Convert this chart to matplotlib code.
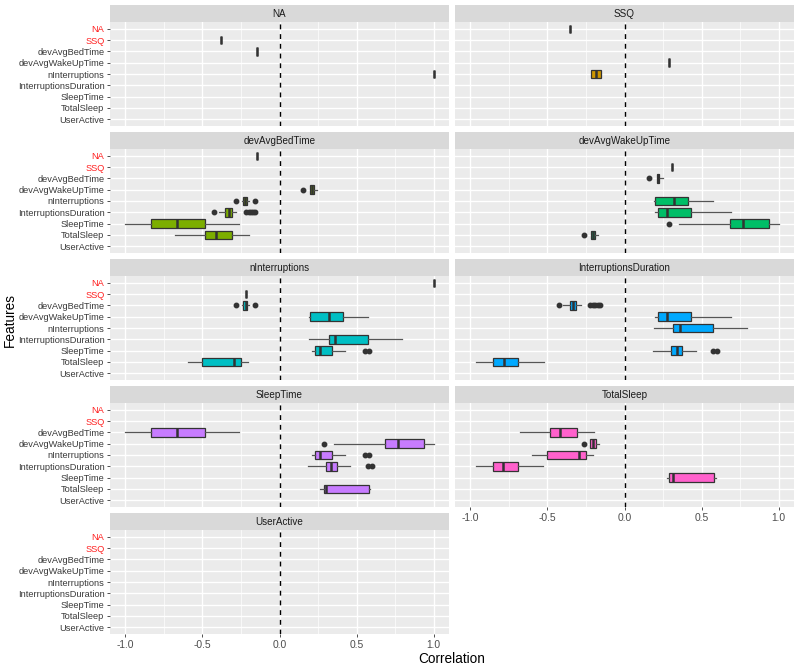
import matplotlib
matplotlib.use("Agg")
import matplotlib.pyplot as plt

plt.rcParams['font.family'] = ['Liberation Sans', 'DejaVu Sans']

# features, top to bottom on every y axis
FEATURES = ["NA", "SSQ", "devAvgBedTime", "devAvgWakeUpTime", "nInterruptions",
            "InterruptionsDuration", "SleepTime", "TotalSleep", "UserActive"]
RED_LABELS = ["NA", "SSQ"]

# facet fill colours (ggplot hue palette)
FILLS = {"NA": "#F8766D", "SSQ": "#CD9600", "devAvgBedTime": "#7CAE00",
         "devAvgWakeUpTime": "#00BE67", "nInterruptions": "#00BFC4",
         "InterruptionsDuration": "#00A9FF", "SleepTime": "#C77CFF",
         "TotalSleep": "#FF61CC", "UserActive": "#FF61CC"}

# box stats per facet: feature -> (whislo, q1, med, q3, whishi, outliers)
NA_BOXES = {
    "SSQ": (-0.38, -0.38, -0.38, -0.38, -0.38, []),
    "devAvgBedTime": (-0.145, -0.145, -0.145, -0.145, -0.145, []),
    "nInterruptions": (1.0, 1.0, 1.0, 1.0, 1.0, []),
}
SSQ_BOXES = {
    "NA": (-0.355, -0.355, -0.355, -0.355, -0.355, []),
    "devAvgWakeUpTime": (0.292, 0.292, 0.292, 0.292, 0.292, []),
    "nInterruptions": (-0.216, -0.216, -0.186, -0.151, -0.151, []),
}
BEDTIME_BOXES = {
    "NA": (-0.145, -0.145, -0.145, -0.145, -0.145, []),
    "devAvgWakeUpTime": (0.201, 0.201, 0.214, 0.227, 0.245, [0.154]),
    "nInterruptions": (-0.245, -0.238, -0.221, -0.21, -0.2, [-0.281, -0.156]),
    "InterruptionsDuration": (-0.394, -0.351, -0.329, -0.31, -0.284,
                              [-0.427, -0.216, -0.2, -0.185, -0.17, -0.16]),
    "SleepTime": (-1.0, -0.831, -0.664, -0.485, -0.264, []),
    "TotalSleep": (-0.675, -0.485, -0.413, -0.307, -0.199, []),
}
WAKEUP_BOXES = {
    "SSQ": (0.31, 0.31, 0.31, 0.31, 0.31, []),
    "devAvgBedTime": (0.208, 0.208, 0.219, 0.227, 0.249, [0.16]),
    "nInterruptions": (0.19, 0.195, 0.32, 0.413, 0.576, []),
    "InterruptionsDuration": (0.199, 0.219, 0.277, 0.431, 0.688, []),
    "SleepTime": (0.353, 0.684, 0.766, 0.937, 1.0, [0.288]),
    "TotalSleep": (-0.219, -0.219, -0.206, -0.19, -0.169, [-0.266]),
}
NINTERR_BOXES = {
    "NA": (1.0, 1.0, 1.0, 1.0, 1.0, []),
    "SSQ": (-0.216, -0.216, -0.216, -0.216, -0.216, []),
    "devAvgBedTime": (-0.245, -0.238, -0.216, -0.208, -0.2, [-0.281, -0.156]),
    "devAvgWakeUpTime": (0.19, 0.197, 0.32, 0.413, 0.573, []),
    "InterruptionsDuration": (0.19, 0.318, 0.359, 0.576, 0.797, []),
    "SleepTime": (0.208, 0.229, 0.266, 0.342, 0.422, [0.558, 0.58]),
    "TotalSleep": (-0.595, -0.504, -0.297, -0.249, -0.203, []),
}
INTDUR_BOXES = {
    "devAvgBedTime": (-0.4, -0.355, -0.333, -0.312, -0.281,
                      [-0.427, -0.221, -0.205, -0.19, -0.175, -0.16]),
    "devAvgWakeUpTime": (0.197, 0.219, 0.277, 0.431, 0.688, []),
    "nInterruptions": (0.19, 0.316, 0.359, 0.576, 0.797, []),
    "SleepTime": (0.186, 0.299, 0.338, 0.374, 0.461, [0.576, 0.602]),
    "TotalSleep": (-0.961, -0.853, -0.784, -0.693, -0.524, []),
}
SLEEPTIME_BOXES = {
    "devAvgBedTime": (-1.0, -0.831, -0.664, -0.485, -0.264, []),
    "devAvgWakeUpTime": (0.353, 0.684, 0.768, 0.937, 1.0, [0.288]),
    "nInterruptions": (0.208, 0.229, 0.266, 0.342, 0.422, [0.558, 0.58]),
    "InterruptionsDuration": (0.186, 0.299, 0.336, 0.374, 0.457, [0.573, 0.602]),
    "TotalSleep": (0.266, 0.292, 0.305, 0.58, 0.59, []),
}
TOTALSLEEP_BOXES = {
    "devAvgBedTime": (-0.675, -0.485, -0.416, -0.307, -0.199, []),
    "devAvgWakeUpTime": (-0.221, -0.221, -0.203, -0.188, -0.167, [-0.264]),
    "nInterruptions": (-0.6, -0.506, -0.297, -0.251, -0.203, []),
    "InterruptionsDuration": (-0.961, -0.853, -0.788, -0.693, -0.528, []),
    "SleepTime": (0.277, 0.292, 0.314, 0.584, 0.597, []),
}
USERACTIVE_BOXES = {}

PANELS = [("NA", NA_BOXES), ("SSQ", SSQ_BOXES), ("devAvgBedTime", BEDTIME_BOXES),
          ("devAvgWakeUpTime", WAKEUP_BOXES), ("nInterruptions", NINTERR_BOXES),
          ("InterruptionsDuration", INTDUR_BOXES), ("SleepTime", SLEEPTIME_BOXES),
          ("TotalSleep", TOTALSLEEP_BOXES), ("UserActive", USERACTIVE_BOXES)]
X_LABELLED = ["TotalSleep", "UserActive"]

W, H = 800, 667
fig = plt.figure(figsize=(W / 100, H / 100), dpi=100)


def px_rect(x0, y0, x1, y1):
    return [x0 / W, 1 - y1 / H, (x1 - x0) / W, (y1 - y0) / H]


COLS = [(110, 449), (455, 794)]
ROW_TOPS = [5, 132, 259, 386, 513]
STRIP_H, PANEL_H = 17, 104
TEXT_SIZE = 6.7
GREY = '#4D4D4D'

for k, (name, boxes) in enumerate(PANELS):
    x0, x1 = COLS[k % 2]
    top = ROW_TOPS[k // 2]

    # strip
    sax = fig.add_axes(px_rect(x0, top, x1, top + STRIP_H))
    sax.set_facecolor('#D9D9D9')
    sax.set_xticks([]); sax.set_yticks([])
    for s in sax.spines.values():
        s.set_visible(False)
    sax.text(0.5, 0.45, name, ha='center', va='center', fontsize=7.1, color='#1A1A1A',
             transform=sax.transAxes)

    # panel
    ax = fig.add_axes(px_rect(x0, top + STRIP_H, x1, top + STRIP_H + PANEL_H))
    ax.set_facecolor('#EBEBEB')
    for s in ax.spines.values():
        s.set_visible(False)
    ax.set_xlim(-1.1, 1.1)
    ax.set_ylim(len(FEATURES) - 0.4, -0.6)
    ax.set_xticks([-1.0, -0.5, 0.0, 0.5, 1.0])
    ax.set_xticks([-0.75, -0.25, 0.25, 0.75], minor=True)
    ax.set_yticks(range(len(FEATURES)))
    ax.grid(which='major', color='white', lw=1.0)
    ax.grid(which='minor', axis='x', color='white', lw=0.5)
    ax.set_axisbelow(True)
    ax.tick_params(which='minor', length=0)
    ax.tick_params(which='major', length=2.5, width=0.6, color='#333333',
                   labelsize=TEXT_SIZE, labelcolor=GREY, pad=1.5)
    ax.tick_params(axis='x', labelsize=7.4, pad=2.0)

    if k % 2 == 0:
        ax.set_yticklabels(FEATURES)
        for lab in ax.get_yticklabels():
            lab.set_color('#FF2020' if lab.get_text() in RED_LABELS else '#3A3A3A')
    else:
        ax.set_yticklabels([])
        ax.tick_params(axis='y', length=0)

    if name in X_LABELLED:
        ax.set_xticklabels(["-1.0", "-0.5", "0.0", "0.5", "1.0"])
    else:
        ax.set_xticklabels([])
        ax.tick_params(axis='x', length=0)

    ax.axvline(0, color='black', lw=1.0, ls=(0, (3.5, 3.5)), zorder=1)

    stats, pos = [], []
    for feat, (wlo, q1, med, q3, whi, fl) in boxes.items():
        stats.append(dict(whislo=wlo, q1=q1, med=med, q3=q3, whishi=whi, fliers=fl))
        pos.append(FEATURES.index(feat))
    if stats:
        ax.bxp(stats, positions=pos, orientation='horizontal', widths=0.75,
               patch_artist=True, showcaps=False, manage_ticks=False,
               boxprops=dict(facecolor=FILLS[name], edgecolor='#333333', lw=0.9),
               medianprops=dict(color='#333333', lw=1.8, solid_capstyle='butt'),
               whiskerprops=dict(color='#555555', lw=0.9),
               flierprops=dict(marker='o', markersize=3.2, markerfacecolor='#333333',
                               markeredgecolor='#333333'),
               zorder=3)

fig.text(10 / W, 1 - 320 / H, "Features", rotation=90, ha='center', va='center',
         fontsize=9.8, color='black')
fig.text(452 / W, 1 - 659 / H, "Correlation", ha='center', va='center',
         fontsize=9.8, color='black')

fig.savefig("out.png", dpi=100)
